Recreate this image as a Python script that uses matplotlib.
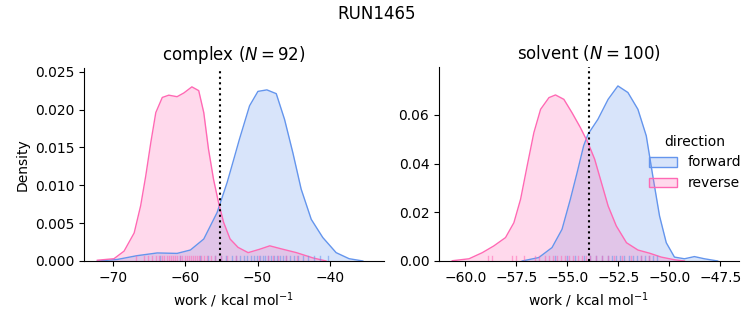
import matplotlib
matplotlib.use("Agg")

import matplotlib.pyplot as plt
from matplotlib.patches import Patch


FORWARD_COLOR = "cornflowerblue"
REVERSE_COLOR = "hotpink"

# complex phase: KDE curves (work, density)
complex_fwd_x = [-72.2, -69.45, -66.7, -63.9, -61.15, -59.3, -57.45, -55.6, -54.2, -53.3,
                 -52.5, -51.1, -49.94, -48.7, -47.4, -46.25, -45.1, -43.95, -42.55, -40.95,
                 -39.1, -37.3, -35.4]
complex_fwd_y = [0.0, 0.0002, 0.0007, 0.00106, 0.001, 0.00145, 0.0029, 0.0064, 0.0104, 0.0134,
                 0.0161, 0.0205, 0.0224, 0.0226, 0.0221, 0.0187, 0.0143, 0.0095, 0.0055, 0.0031,
                 0.0011, 0.0003, 0.0]

complex_rev_x = [-72.2, -69.9, -68.5, -67.1, -66.2, -65.5, -64.8, -64.1, -63.2, -62.3,
                 -61.15, -60.2, -59.1, -58.15, -57.45, -56.8, -56.1, -55.4, -54.7, -53.8,
                 -52.7, -51.3, -49.7, -48.3, -46.7, -44.6, -42.3, -40.5]
complex_rev_y = [0.0001, 0.0003, 0.0013, 0.0037, 0.0073, 0.0112, 0.0156, 0.0196, 0.0216, 0.0219,
                 0.0217, 0.0222, 0.023, 0.0225, 0.0196, 0.0148, 0.0108, 0.0077, 0.0051, 0.0029,
                 0.0018, 0.0011, 0.00155, 0.002, 0.0016, 0.0011, 0.0004, 0.0]

# solvent phase
solvent_fwd_x = [-57.21, -56.4, -55.75, -55.26, -54.85, -54.52, -54.2, -53.99, -53.5, -53.0,
                 -52.52, -52.03, -51.54, -51.13, -50.81, -50.48, -50.15, -49.75, -49.26, -48.77,
                 -48.28, -47.63]
solvent_fwd_y = [0.0, 0.0014, 0.0055, 0.013, 0.0254, 0.0363, 0.0473, 0.052, 0.0582, 0.0664,
                 0.0719, 0.0692, 0.0623, 0.0514, 0.0349, 0.0185, 0.0075, 0.0016, 0.0009, 0.0018,
                 0.0009, 0.0]

solvent_rev_x = [-60.64, -59.82, -59.17, -58.6, -58.03, -57.62, -57.29, -56.97, -56.64, -56.31,
                 -55.9, -55.58, -55.17, -54.77, -54.36, -53.99, -53.66, -53.33, -53.0, -52.6,
                 -52.1, -51.54, -50.97, -50.4, -49.75, -49.26]
solvent_rev_y = [0.0001, 0.0009, 0.0034, 0.0062, 0.0096, 0.0157, 0.0254, 0.039, 0.0527, 0.0623,
                 0.0671, 0.0682, 0.0664, 0.0609, 0.0548, 0.0486, 0.0418, 0.0322, 0.0226, 0.0144,
                 0.0075, 0.0045, 0.0032, 0.0016, 0.0005, 0.0]

# rug positions (estimated individual work values)
complex_fwd_rug = [-63.5, -60.8, -58.0, -56.8, -55.9, -55.0, -54.3, -53.6, -53.0, -52.4,
                   -51.9, -51.4, -50.9, -50.5, -50.1, -49.7, -49.3, -48.9, -48.5, -48.1,
                   -47.7, -47.3, -46.9, -46.5, -46.0, -45.5, -45.0, -44.4, -43.7, -43.0,
                   -42.2, -41.3, -40.2]
complex_rev_rug = [-66.9, -65.8, -65.2, -64.6, -64.1, -63.7, -63.3, -63.0, -62.6, -62.3,
                   -62.0, -61.7, -61.4, -61.1, -60.8, -60.4, -60.1, -59.8, -59.5, -59.2,
                   -58.9, -58.7, -58.4, -58.1, -57.8, -57.4, -57.0, -56.5, -55.9, -55.1,
                   -54.2, -53.0, -49.8, -48.6, -47.9, -47.2, -46.0, -44.5]
solvent_fwd_rug = [-55.6, -55.0, -54.6, -54.2, -53.9, -53.6, -53.3, -53.0, -52.8, -52.6,
                   -52.4, -52.2, -52.0, -51.8, -51.6, -51.4, -51.2, -51.0, -50.8, -50.6]
solvent_rev_rug = [-58.9, -58.7, -57.7, -57.5, -57.1, -56.6, -56.4, -56.1, -55.9, -55.7,
                   -55.5, -55.3, -55.1, -54.9, -54.7, -54.5, -54.3, -54.1, -53.9, -53.6,
                   -53.3, -53.0, -52.7, -52.3, -51.9, -51.4, -51.0]

complex_dg = -55.24
solvent_dg = -53.95


def draw_panel(ax, title, fwd, rev, fwd_rug, rev_rug, dg, xlim, ylim, xticks, yticks):
    for (x, y), color in [(fwd, FORWARD_COLOR), (rev, REVERSE_COLOR)]:
        ax.fill_between(x, y, 0, color=color, alpha=0.25, linewidth=0)
        ax.plot(x, y, color=color, linewidth=1)

    for values, color in [(fwd_rug, FORWARD_COLOR), (rev_rug, REVERSE_COLOR)]:
        for v in values:
            ax.axvline(v, ymin=0, ymax=0.025, color=color, alpha=0.55, linewidth=1)

    ax.axvline(dg, color="black", linestyle=":", linewidth=1.5)

    ax.set_xlim(*xlim)
    ax.set_ylim(*ylim)
    ax.set_xticks(xticks)
    ax.set_yticks(yticks)
    ax.set_title(title, fontsize=12)
    ax.set_xlabel("work / kcal mol$^{-1}$")
    ax.spines["top"].set_visible(False)
    ax.spines["right"].set_visible(False)


fig = plt.figure(figsize=(7.53, 3.25), dpi=100)
ax1 = fig.add_axes([0.1116, 0.197, 0.398, 0.594])
ax2 = fig.add_axes([0.583, 0.197, 0.398, 0.597])

draw_panel(
    ax1, "complex ($N = 92$)",
    (complex_fwd_x, complex_fwd_y), (complex_rev_x, complex_rev_y),
    complex_fwd_rug, complex_rev_rug, complex_dg,
    (-74.05, -32.5), (0, 0.0255),
    [-70, -60, -50, -40], [0, 0.005, 0.01, 0.015, 0.02, 0.025],
)
ax1.set_ylabel("Density")
ax1.set_yticklabels(["0.000", "0.005", "0.010", "0.015", "0.020", "0.025"])

draw_panel(
    ax2, "solvent ($N = 100$)",
    (solvent_fwd_x, solvent_fwd_y), (solvent_rev_x, solvent_rev_y),
    solvent_fwd_rug, solvent_rev_rug, solvent_dg,
    (-61.29, -46.6), (0, 0.0797),
    [-60, -57.5, -55, -52.5, -50, -47.5], [0, 0.02, 0.04, 0.06],
)
ax2.set_yticklabels(["0.00", "0.02", "0.04", "0.06"])

handles = [
    Patch(facecolor=(0.392, 0.584, 0.929, 0.25), edgecolor=FORWARD_COLOR, label="forward"),
    Patch(facecolor=(1.0, 0.412, 0.706, 0.25), edgecolor=REVERSE_COLOR, label="reverse"),
]
fig.legend(
    handles=handles, title="direction", frameon=False,
    loc="center left", bbox_to_anchor=(0.845, 0.5), fontsize=10,
)

fig.suptitle("RUN1465", fontsize=12, y=0.985)

fig.savefig("out.png", dpi=100)
